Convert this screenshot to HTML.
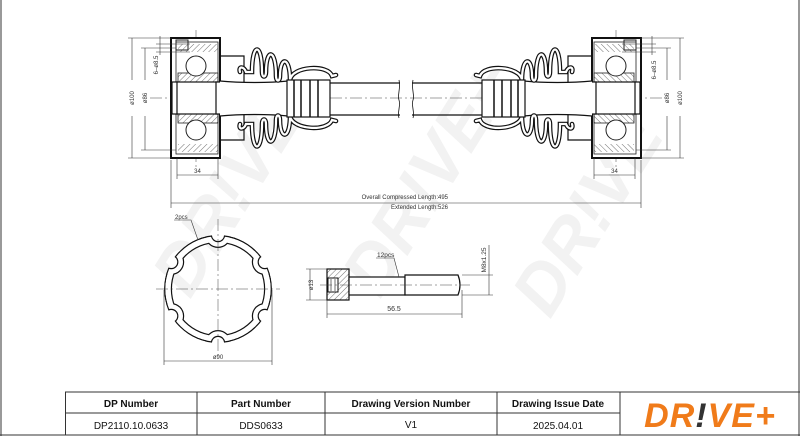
<!DOCTYPE html>
<html><head><meta charset="utf-8"><style>
html,body{margin:0;padding:0;background:#fff;}
svg{display:block;}
text{font-family:"Liberation Sans",sans-serif;}
</style></head><body>
<svg width="800" height="436" viewBox="0 0 800 436" xmlns="http://www.w3.org/2000/svg">
<defs>
<pattern id="h" width="4" height="4" patternUnits="userSpaceOnUse" patternTransform="rotate(45)">
<line x1="0" y1="0" x2="0" y2="4" stroke="#333" stroke-width="0.7"/></pattern>
<path id="bel" fill="none" d="M240,72 C238,66 244,66 246,72 L252,72 C252,42 262,42 262,72 C262,78 266,78 266,72 C266,48 276,48 276,76 C276,82 280,82 280,76 C280,56 290,56 290,80 M290,80 C292,66 328,64 332,76 L336,75"/>
<clipPath id="cS"><circle cx="218" cy="289" r="54"/></clipPath>
<clipPath id="cE"><circle cx="218" cy="289" r="52.8"/></clipPath>
<mask id="mS" maskUnits="userSpaceOnUse" x="100" y="200" width="250" height="200">
 <g transform="translate(218,289)">
 <circle r="54" fill="#fff"/>
 <circle r="46" fill="#000"/>
 <g fill="#fff"><circle cx="0" cy="-54" r="13"/><circle cx="0" cy="54" r="13"/><circle cx="46.8" cy="-27" r="13"/><circle cx="-46.8" cy="-27" r="13"/><circle cx="46.8" cy="27" r="13"/><circle cx="-46.8" cy="27" r="13"/></g>
 <g fill="#000"><circle cx="0" cy="-54" r="6"/><circle cx="0" cy="54" r="6"/><circle cx="46.8" cy="-27" r="6"/><circle cx="-46.8" cy="-27" r="6"/><circle cx="46.8" cy="27" r="6"/><circle cx="-46.8" cy="27" r="6"/></g>
 </g>
</mask>
<mask id="mE" maskUnits="userSpaceOnUse" x="100" y="200" width="250" height="200">
 <g transform="translate(218,289)">
 <circle r="52.8" fill="#fff"/>
 <circle r="47.2" fill="#000"/>
 <g fill="#fff"><circle cx="0" cy="-54" r="11.8"/><circle cx="0" cy="54" r="11.8"/><circle cx="46.8" cy="-27" r="11.8"/><circle cx="-46.8" cy="-27" r="11.8"/><circle cx="46.8" cy="27" r="11.8"/><circle cx="-46.8" cy="27" r="11.8"/></g>
 <g fill="#000"><circle cx="0" cy="-54" r="7.2"/><circle cx="0" cy="54" r="7.2"/><circle cx="46.8" cy="-27" r="7.2"/><circle cx="-46.8" cy="-27" r="7.2"/><circle cx="46.8" cy="27" r="7.2"/><circle cx="-46.8" cy="27" r="7.2"/></g>
 </g>
</mask>
<g id="half">
 <rect x="171" y="38" width="49" height="120" fill="#fff" stroke="#111" stroke-width="2"/>
 <rect x="176" y="42" width="42" height="112" fill="none" stroke="#222" stroke-width="0.8"/>
 <rect x="176" y="40" width="12" height="10" fill="none" stroke="#222" stroke-width="1"/>
 <rect x="178" y="73" width="40" height="9" fill="url(#h)" stroke="#222" stroke-width="0.8"/>
 <rect x="178" y="114" width="40" height="9" fill="url(#h)" stroke="#222" stroke-width="0.8"/>
 <rect x="178" y="144" width="40" height="8" fill="url(#h)" stroke="none"/>
 <rect x="178" y="44" width="40" height="8" fill="url(#h)" stroke="none"/>
 <circle cx="196" cy="66" r="10" fill="#fff" stroke="#222"/>
 <circle cx="196" cy="130" r="10" fill="#fff" stroke="#222"/>
 <rect x="176" y="82" width="42" height="32" fill="#fff" stroke="#111" stroke-width="1.2"/>
 <rect x="172" y="82" width="5" height="32" fill="#fff" stroke="#111" stroke-width="1.2"/>
 <rect x="216" y="82" width="5" height="32" fill="#fff" stroke="#111" stroke-width="1.2"/>
 <path d="M220,56 L244,56 L244,140 L220,140" fill="none" stroke="#111" stroke-width="1.2"/>
 <path d="M220,81 C240,83 270,83 288,81 L288,116 C270,114 240,114 220,116" fill="#fff" stroke="#111" stroke-width="1.2"/>
 <g stroke-linecap="round">
 <use href="#bel" stroke="#111" stroke-width="4.6"/>
 <use href="#bel" stroke="#fff" stroke-width="2.2"/>
 <g transform="translate(0,196) scale(1,-1)">
 <use href="#bel" stroke="#111" stroke-width="4.6"/>
 <use href="#bel" stroke="#fff" stroke-width="2.2"/>
 </g>
 </g>
 <rect x="287" y="80" width="43" height="37" fill="#fff" stroke="#111" stroke-width="1.2"/>
 <line x1="294" y1="80" x2="294" y2="117" stroke="#111" stroke-width="1.5"/>
 <line x1="301" y1="80" x2="301" y2="117" stroke="#111" stroke-width="1.5"/>
 <line x1="310" y1="80" x2="310" y2="117" stroke="#111" stroke-width="1.5"/>
 <line x1="318" y1="80" x2="318" y2="117" stroke="#111" stroke-width="1.5"/>
 <path d="M330,83 L400,83 M330,115 L400,115" stroke="#111" stroke-width="1.3"/>
 <path d="M399,80 C401,88 397,96 399,100 C401,106 397,112 399,118" fill="none" stroke="#111" stroke-width="0.8"/>
 <g stroke="#333" stroke-width="0.6" fill="none">
 <line x1="128" y1="38" x2="171" y2="38"/><line x1="128" y1="158" x2="171" y2="158"/>
 <line x1="132" y1="38" x2="132" y2="158"/>
 <line x1="141" y1="48" x2="176" y2="48"/><line x1="141" y1="150" x2="176" y2="150"/>
 <line x1="145" y1="48" x2="145" y2="150"/>
 <line x1="156" y1="44" x2="190" y2="44"/><line x1="156" y1="52" x2="190" y2="52"/>
 <line x1="160" y1="36" x2="160" y2="76"/>
 <line x1="177" y1="158" x2="177" y2="179"/><line x1="218" y1="158" x2="218" y2="179"/>
 <line x1="177" y1="175" x2="218" y2="175"/>
 <line x1="171" y1="160" x2="171" y2="208"/>
 </g>
</g>
</defs>
<g fill="#f2f2f2" font-size="70" font-weight="bold" font-style="italic">
<text transform="translate(190,300) rotate(-58)">DR!VE</text>
<text transform="translate(380,300) rotate(-58)">DR!VE+</text>
<text transform="translate(550,320) rotate(-58)">DR!VE</text>
</g>
<line x1="150" y1="98" x2="662" y2="98" stroke="#444" stroke-width="0.5" stroke-dasharray="12,3,2,3"/>
<line x1="196" y1="30" x2="196" y2="170" stroke="#444" stroke-width="0.5" stroke-dasharray="12,3,2,3"/>
<line x1="616" y1="30" x2="616" y2="170" stroke="#444" stroke-width="0.5" stroke-dasharray="12,3,2,3"/>
<use href="#half"/>
<g transform="translate(812,0) scale(-1,1)"><use href="#half"/></g>
<g fill="#fff"><rect x="665" y="80" width="8" height="36"/><rect x="678" y="80" width="8" height="36"/><rect x="650" y="55" width="8" height="30"/><rect x="605" y="168" width="14" height="6"/><rect x="127" y="80" width="8" height="36"/><rect x="140" y="80" width="8" height="36"/><rect x="154" y="55" width="8" height="30"/><rect x="190" y="168" width="14" height="6"/></g>
<g font-size="6" fill="#333" text-anchor="middle">
<text transform="translate(134,98) rotate(-90)">ø100</text>
<text transform="translate(147,98) rotate(-90)">ø86</text>
<text transform="translate(158,65) rotate(-90)">6–ø8.5</text>
<text x="197.5" y="173">34</text>
<text transform="translate(682,98) rotate(-90)">ø100</text>
<text transform="translate(669,98) rotate(-90)">ø86</text>
<text transform="translate(656,70) rotate(-90)">6–ø8.5</text>
<text x="614.5" y="173">34</text>
</g>
<line x1="171" y1="203" x2="641" y2="203" stroke="#333" stroke-width="0.6"/>
<text x="448" y="199" font-size="6" fill="#333" text-anchor="end">Overall  Compressed  Length:495</text>
<text x="448" y="209" font-size="6" fill="#333" text-anchor="end">Extended  Length:526</text>
<!-- ring -->
<g clip-path="url(#cS)"><rect x="100" y="200" width="250" height="200" fill="#111" mask="url(#mS)"/></g>
<g clip-path="url(#cE)"><rect x="100" y="200" width="250" height="200" fill="#fff" mask="url(#mE)"/></g>
<line x1="156" y1="289" x2="280" y2="289" stroke="#444" stroke-width="0.5" stroke-dasharray="12,3,2,3"/>
<line x1="218" y1="219" x2="218" y2="357" stroke="#444" stroke-width="0.5" stroke-dasharray="12,3,2,3"/>
<g stroke="#333" stroke-width="0.6" fill="none">
<line x1="164" y1="290" x2="164" y2="365"/><line x1="272" y1="290" x2="272" y2="365"/>
<line x1="164" y1="361" x2="272" y2="361"/>
<polyline points="174,220 191,220 198,240"/>
</g>
<text x="218" y="359" font-size="6" fill="#333" text-anchor="middle">ø90</text>
<text x="175" y="219" font-size="6" fill="#333">2pcs</text>
<!-- bolt -->
<rect x="327" y="269" width="22" height="31" fill="url(#h)" stroke="#111" stroke-width="1.2"/>
<rect x="328" y="278" width="10" height="14" fill="#fff" stroke="#111" stroke-width="1"/>
<line x1="331" y1="279" x2="331" y2="291" stroke="#111" stroke-width="0.6"/><line x1="335" y1="279" x2="335" y2="291" stroke="#111" stroke-width="0.6"/>
<rect x="349" y="277" width="56" height="18" fill="#fff" stroke="#111" stroke-width="1.2"/>
<path d="M405,275 L458,275 Q462,285 458,295 L405,295 Z" fill="#fff" stroke="#111" stroke-width="1.2"/>
<line x1="320" y1="285" x2="470" y2="285" stroke="#444" stroke-width="0.5" stroke-dasharray="12,3,2,3"/>
<g stroke="#333" stroke-width="0.6" fill="none">
<line x1="306" y1="269" x2="327" y2="269"/><line x1="306" y1="300" x2="327" y2="300"/>
<line x1="310" y1="269" x2="310" y2="300"/>
<line x1="327" y1="300" x2="327" y2="318"/><line x1="462" y1="290" x2="462" y2="318"/>
<line x1="327" y1="314" x2="462" y2="314"/>
<line x1="462" y1="275" x2="493" y2="275"/><line x1="462" y1="295" x2="493" y2="295"/>
<line x1="489" y1="245" x2="489" y2="295"/>
<polyline points="376,258 394,258 399,277"/>
</g>
<text transform="translate(313,285) rotate(-90)" font-size="6" fill="#333" text-anchor="middle">ø13</text>
<text x="394" y="311" font-size="7" fill="#333" text-anchor="middle">56.5</text>
<text x="377" y="257" font-size="6.5" fill="#333">12pcs</text>
<text transform="translate(486,260) rotate(-90)" font-size="6.5" fill="#333" text-anchor="middle">M8x1.25</text>
<line x1="1" y1="0" x2="1" y2="436" stroke="#333" stroke-width="1"/>
<line x1="799" y1="0" x2="799" y2="436" stroke="#333" stroke-width="1"/>
<g stroke="#333" stroke-width="1" fill="none">
<line x1="65" y1="392" x2="800" y2="392"/>
<line x1="65" y1="413" x2="620" y2="413"/>
<line x1="0" y1="435" x2="800" y2="435"/>
<line x1="65.5" y1="392" x2="65.5" y2="435"/>
<line x1="197" y1="392" x2="197" y2="435"/>
<line x1="325" y1="392" x2="325" y2="435"/>
<line x1="497" y1="392" x2="497" y2="435"/>
<line x1="620" y1="392" x2="620" y2="435"/>
</g>
<g font-size="10" text-anchor="middle" fill="#111">
<text x="131" y="407" font-weight="bold">DP Number</text>
<text x="261" y="407" font-weight="bold">Part Number</text>
<text x="411" y="407" font-weight="bold">Drawing Version Number</text>
<text x="558" y="407" font-weight="bold">Drawing Issue Date</text>
<text x="131" y="429">DP2110.10.0633</text>
<text x="261" y="429">DDS0633</text>
<text x="411" y="428">V1</text>
<text x="558" y="429">2025.04.01</text>
</g>
<text x="710" y="427" font-size="34" font-weight="bold" font-style="italic" fill="#f07b1a" text-anchor="middle" letter-spacing="1">DR<tspan fill="#333">!</tspan>VE+</text>
</svg>
</body></html>
